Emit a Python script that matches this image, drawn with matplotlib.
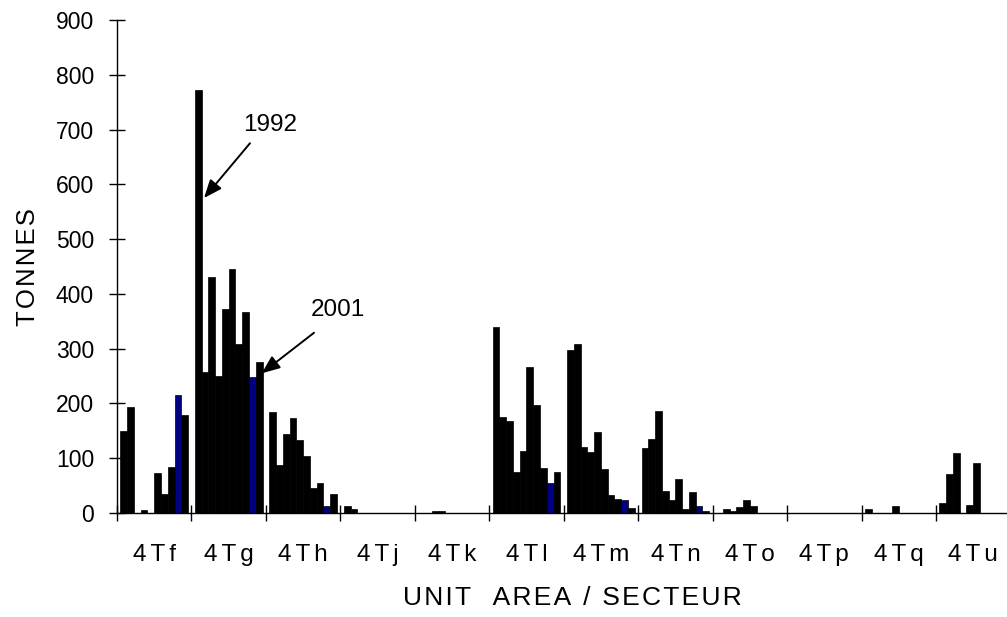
import numpy as np
import matplotlib.pyplot as plt

plt.rcParams['font.family'] = ['Liberation Sans', 'DejaVu Sans']

areas = ["4Tf", "4Tg", "4Th", "4Tj", "4Tk", "4Tl", "4Tm", "4Tn", "4To", "4Tp", "4Tq", "4Tu"]
years = list(range(1992, 2002))

# landings (tonnes) by unit area, one value per year 1992-2001
t_4Tf = [150, 193, 0, 6, 0, 73, 34, 84, 215, 179]
t_4Tg = [772, 258, 431, 250, 372, 445, 308, 366, 249, 275]
t_4Th = [185, 88, 144, 174, 134, 104, 46, 54, 13, 35]
t_4Tj = [12, 7, 0, 0, 0, 0, 0, 0, 0, 0]
t_4Tk = [0, 0, 3, 3, 0, 0, 0, 0, 0, 0]
t_4Tl = [339, 175, 168, 74, 113, 266, 197, 82, 55, 74]
t_4Tm = [297, 308, 121, 112, 148, 80, 32, 26, 24, 9]
t_4Tn = [118, 135, 186, 40, 23, 62, 7, 38, 12, 4]
t_4To = [0, 7, 4, 10, 24, 13, 0, 0, 0, 0]
t_4Tp = [0, 0, 0, 0, 0, 0, 0, 0, 0, 0]
t_4Tq = [7, 0, 0, 0, 13, 0, 0, 0, 0, 0]
t_4Tu = [18, 71, 110, 0, 15, 91, 0, 0, 0, 0]

series = [t_4Tf, t_4Tg, t_4Th, t_4Tj, t_4Tk, t_4Tl,
          t_4Tm, t_4Tn, t_4To, t_4Tp, t_4Tq, t_4Tu]
highlight_year = 2000


def spaced(s, sep='\u200a'):
    return sep.join(s)


fig = plt.figure(figsize=(10.07, 6.17), dpi=100)
ax = fig.add_axes([0.1162, 0.1686, 0.8872, 0.799])

nslot = len(years) + 1
w = 1.0 / nslot
for g, vals in enumerate(series):
    for j, (yr, v) in enumerate(zip(years, vals)):
        if v <= 0:
            continue
        c = '#000080' if yr == highlight_year else 'black'
        ax.bar(g + (j + 1) * w, v, width=w, color=c, edgecolor='black', linewidth=0.5)

ax.set_xlim(0, len(areas))
ax.set_ylim(0, 900)

for s in ['top', 'right']:
    ax.spines[s].set_visible(False)
ax.spines['left'].set_linewidth(1.0)
ax.spines['bottom'].set_linewidth(1.0)

ax.set_yticks(np.arange(0, 901, 100))
ax.tick_params(axis='y', direction='inout', length=11.5, width=1, pad=10.8, labelsize=16.5)

ax.set_xticks(np.arange(0, len(areas) + 1))
ax.set_xticklabels([])
ax.tick_params(axis='x', which='major', direction='inout', length=11, width=1)
ax.set_xticks(np.arange(len(areas)) + 0.5, minor=True)
ax.set_xticklabels([spaced(a, '\u2006') for a in areas], minor=True)
ax.tick_params(axis='x', which='minor', length=0, pad=22, labelsize=17.5)

# year call-outs
arrow = dict(arrowstyle='-|>,head_length=1.1,head_width=0.45', mutation_scale=10,
             color='black', lw=1.4, shrinkA=0, shrinkB=0)
ax.annotate('', xy=(1.169, 575), xytext=(1.786, 675), arrowprops=arrow)
ax.text(2.055, 708, '1992', fontsize=17.5, ha='center', va='center')
ax.annotate('', xy=(1.944, 255), xytext=(2.646, 329), arrowprops=arrow)
ax.text(2.968, 370, '2001', fontsize=17.5, ha='center', va='center')

xlabel = 'UNIT  AREA / SECTEUR'.replace('', '\u200a')[1:-1]
fig.text(572 / 1007, 1 - 598 / 617, xlabel, ha='center', va='center', fontsize=19)
fig.text(28 / 1007, 1 - 267 / 617, spaced('TONNES'), rotation=90,
         ha='center', va='center', fontsize=18.5)

fig.savefig('out.png', dpi=100)
